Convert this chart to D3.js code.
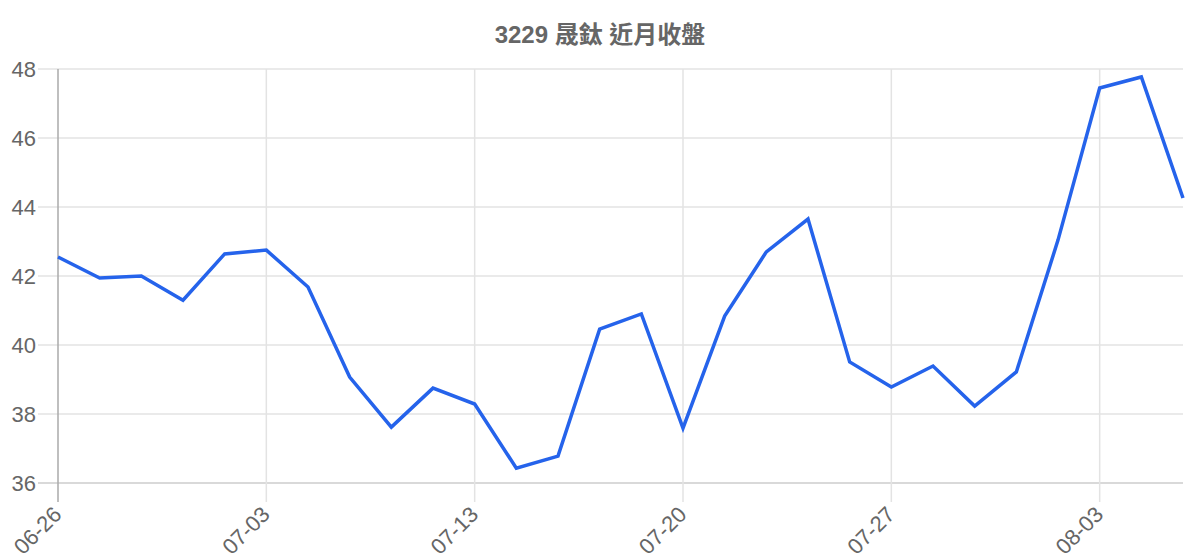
<!DOCTYPE html>
<html><head><meta charset="utf-8">
<script src="https://cdn.jsdelivr.net/npm/d3@7"></script>
<style>body{margin:0;background:#fff}svg{display:block}</style>
</head><body>
<svg id="c" width="1200" height="560"></svg>
<script>
const title = "3229 晟鈦 近月收盤";
const dates = ["06-26","06-27","06-28","06-29","06-30","07-03","07-04","07-05","07-06","07-07",
  "07-13","07-14","07-17","07-18","07-19","07-20","07-21","07-24","07-25","07-26",
  "07-27","07-28","07-31","08-01","08-02","08-03","08-04","08-07"];
const closes = [42.55,41.94,42.00,41.30,42.64,42.75,41.68,39.07,37.62,38.75,
  38.29,36.43,36.78,40.46,40.90,37.59,40.84,42.70,43.65,39.51,
  38.78,39.39,38.23,39.22,43.04,47.45,47.77,44.26];
const yTicks = [36,38,40,42,44,46,48];
const xTickLabels = ["06-26","07-03","07-13","07-20","07-27","08-03"];

const svg = d3.select("#c");
const L = 58, R = 1183, T = 69, B = 483;
const font = "'Liberation Sans', Arial, 'Noto Sans CJK TC', sans-serif";
const x = d3.scalePoint().domain(dates).range([L, R]);
const y = d3.scaleLinear().domain([36, 48]).range([B, T]);

// horizontal grid
svg.append("g").selectAll("line").data(yTicks).join("line")
  .attr("x1", L - 20).attr("x2", R)
  .attr("y1", d => y(d)).attr("y2", d => y(d))
  .attr("stroke", d => d === 36 ? "#cccccc" : "#e3e3e3").attr("stroke-width", 1.5);
// vertical grid
svg.append("g").selectAll("line").data(xTickLabels).join("line")
  .attr("x1", d => x(d)).attr("x2", d => x(d))
  .attr("y1", T).attr("y2", B + 19)
  .attr("stroke", d => d === dates[0] ? "#aaaaaa" : "#e3e3e3").attr("stroke-width", 1.5);

// y labels
svg.append("g").selectAll("text").data(yTicks).join("text")
  .attr("x", L - 22).attr("y", d => y(d)).attr("dy", "0.36em")
  .attr("text-anchor", "end").attr("fill", "#666")
  .style("font-family", font).style("font-size", "22px").text(d => d);
// x labels
svg.append("g").selectAll("text").data(xTickLabels).join("text")
  .attr("transform", d => `translate(${x(d) - 6},${B + 22}) rotate(-45)`)
  .attr("dy", "0.7em")
  .attr("text-anchor", "end").attr("fill", "#666")
  .style("font-family", font).style("font-size", "22px").text(d => d);

// line
const line = d3.line().x((d, i) => x(dates[i])).y(d => y(d));
svg.append("path").datum(closes).attr("d", line)
  .attr("fill", "none").attr("stroke", "#2563eb").attr("stroke-width", 3.5)
  .attr("stroke-linejoin", "miter");

// title
svg.append("text").attr("x", 600).attr("y", 43).attr("text-anchor", "middle")
  .attr("fill", "#666").style("font-family", font).style("font-size", "24px")
  .style("font-weight", "bold").text(title);
</script>
</body></html>
